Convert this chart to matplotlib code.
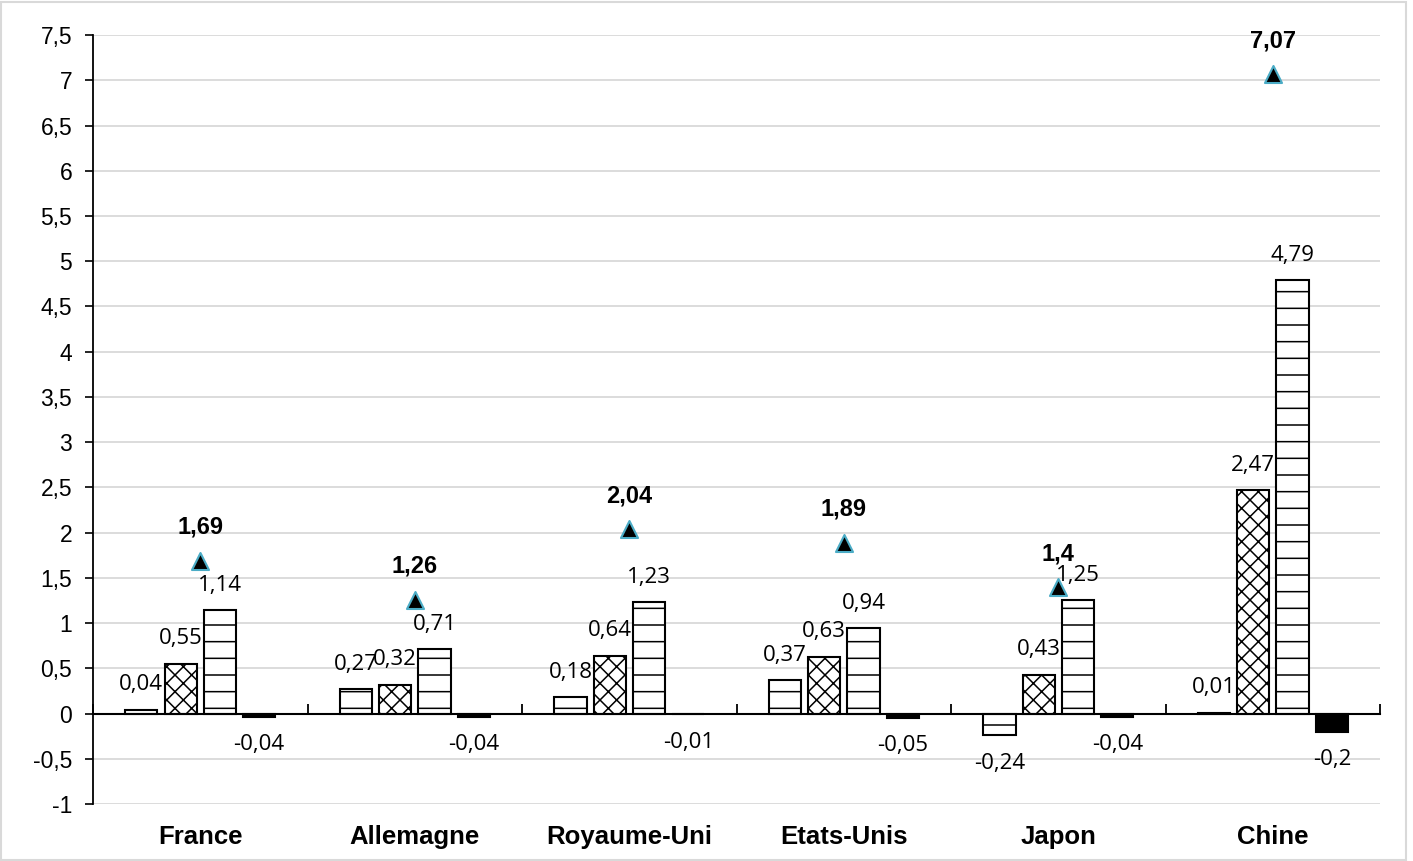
import matplotlib
matplotlib.use("Agg")
import matplotlib.pyplot as plt
import numpy as np

pays = ["France", "Allemagne", "Royaume-Uni", "Etats-Unis", "Japon", "Chine"]
serie1 = [0.04, 0.27, 0.18, 0.37, -0.24, 0.01]
serie2 = [0.55, 0.32, 0.64, 0.63, 0.43, 2.47]
serie3 = [1.14, 0.71, 1.23, 0.94, 1.25, 4.79]
serie4 = [-0.04, -0.04, -0.01, -0.05, -0.04, -0.2]
total = [1.69, 1.26, 2.04, 1.89, 1.4, 7.07]
yticks = [-1, -0.5, 0, 0.5, 1, 1.5, 2, 2.5, 3, 3.5, 4, 4.5, 5, 5.5, 6, 6.5, 7, 7.5]

def virgule(v):
    return ("%g" % v).replace(".", ",")

plt.rcParams["hatch.linewidth"] = 1.1
fig = plt.figure(figsize=(14.13, 8.61), dpi=100)
ax = fig.add_axes([0.0658, 0.0662, 0.911, 0.8931])

x = np.arange(len(pays))
w = 0.15
step = 0.183
styles = [
    (serie1, "white", "-"),
    (serie2, "white", "xx"),
    (serie3, "white", "-"),
    (serie4, "black", None),
]
for i, (vals, fc, h) in enumerate(styles):
    pos = x + (i - 1.5) * step
    ax.bar(pos, vals, w, color=fc, edgecolor="black",
           hatch=h, linewidth=1.5, zorder=3)
    for p, v in zip(pos, vals):
        dy = 18 if v >= 0 else -20
        ax.annotate(virgule(v), (p, v), xytext=(0, dy), textcoords="offset points",
                    ha="center", va="center", fontsize=16, family="Open Sans", zorder=4)

ax.scatter(x, total, marker="^", s=150, color="black", edgecolor="#4BACC6",
           linewidth=1.5, zorder=5)
for xi, t in zip(x, total):
    ax.annotate(virgule(t), (xi, t), xytext=(0, 24), textcoords="offset points",
                ha="center", va="center", fontsize=17, fontweight="bold",
                family="Liberation Sans", zorder=6)

ax.set_xlim(-0.5, len(pays) - 0.5)
ax.set_ylim(-1, 7.5)
ax.set_yticks(yticks)
ax.set_yticklabels([virgule(v) for v in yticks], family="Liberation Sans", fontsize=16.5)
ax.tick_params(axis="y", direction="out", length=6, width=1.2, pad=9)
ax.grid(axis="y", color="#D9D9D9", linewidth=1.3, zorder=0)

for s in ["top", "right"]:
    ax.spines[s].set_visible(False)
ax.spines["left"].set_linewidth(1.3)
ax.spines["bottom"].set_position(("data", 0))
ax.spines["bottom"].set_linewidth(1.5)
ax.spines["bottom"].set_zorder(4)
ax.set_xticks(np.arange(len(pays) + 1) - 0.5)
ax.set_xticklabels([])
ax.tick_params(axis="x", direction="in", length=7, width=1.3)

sec = ax.secondary_xaxis("bottom")
sec.set_xticks(x)
sec.set_xticklabels(pays, fontsize=18.5, fontweight="bold", family="Liberation Sans")
sec.tick_params(length=0, pad=15)
sec.spines["bottom"].set_visible(False)

fig.patches.append(plt.Rectangle((0.001, 0.001), 0.994, 0.997, transform=fig.transFigure,
                                 fill=False, edgecolor="#D9D9D9", linewidth=1.5))
fig.savefig("out.png", dpi=100)
